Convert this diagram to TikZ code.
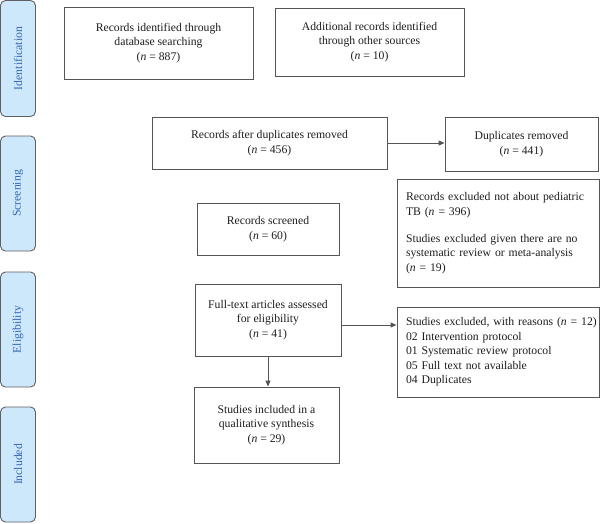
\documentclass[tikz,border=0pt]{standalone}
\usepackage{fontspec}
\setmainfont{Liberation Serif}
\usetikzlibrary{arrows.meta}
\definecolor{lblue}{RGB}{206,232,251}
\definecolor{ltext}{RGB}{52,102,178}
\definecolor{lborder}{RGB}{95,95,100}
\definecolor{boxgray}{RGB}{85,85,85}
\definecolor{txt}{RGB}{30,30,30}
\newcommand{\nn}{\textit{n}}
\newcommand{\oneline}[1]{\mbox{#1}}
\begin{document}
\begin{tikzpicture}[x=1pt,y=-1pt,
  stage/.style={draw=lborder, line width=0.9pt, fill=lblue, rounded corners=5pt,
    rotate=90, minimum height=35pt, inner sep=0pt, text=ltext,
    font=\fontsize{11.7}{14}\selectfont},
  cbox/.style={draw=boxgray, line width=0.9pt, inner sep=0pt, align=center, text=txt,
    font=\fontsize{11.7}{14.5}\selectfont},
  lbox/.style={cbox, align=left, inner xsep=9pt, inner ysep=0pt},
  arr/.style={draw=boxgray, line width=0.9pt, -{Triangle[length=6pt,width=5pt]}}
]
\useasboundingbox (0,0) rectangle (600,523);
\fill[white] (0,0) rectangle (600,523);

\node[stage, minimum width=116pt] (sid) at (18,58.5) {Identification};
\node[stage, minimum width=115pt] (ssc) at (18,193.5) {Screening};
\node[stage, minimum width=115pt] (sel) at (18,329.5) {Eligibility};
\node[stage, minimum width=115pt] (sin) at (18,464.5) {Included};

\node[cbox, minimum width=189pt, minimum height=72pt] (db) at (158.5,43)
  {Records identified through\\database searching\\(\nn{} = 887)};
\node[cbox, minimum width=189pt, minimum height=68pt] (other) at (369.5,42)
  {Additional records identified\\through other sources\\(\nn{} = 10)};
\node[cbox, minimum width=235pt, minimum height=52pt] (after) at (269.5,143)
  {Records after duplicates removed\\(\nn{} = 456)};
\node[cbox, minimum width=153pt, minimum height=54pt] (dup) at (521.5,144)
  {Duplicates removed\\(\nn{} = 441)};
\node[lbox, text width=184pt, minimum height=108pt] (excl1) at (498,233)
  {\oneline{Records excluded not about pediatric}\\\oneline{TB (\nn{} = 396)}\\[12.5pt]\oneline{Studies excluded given there are no}\\\oneline{systematic review or meta-analysis}\\\oneline{(\nn{} = 19)}};
\node[cbox, minimum width=142pt, minimum height=52pt] (screened) at (268,229)
  {Records screened\\(\nn{} = 60)};
\node[cbox, minimum width=146pt, minimum height=72pt] (full) at (268,320)
  {Full-text articles assessed\\for eligibility\\(\nn{} = 41)};
\node[lbox, text width=184pt, minimum height=90pt] (excl2) at (498,352)
  {\oneline{Studies excluded, with reasons (\nn{} = 12)}\\\oneline{02 Intervention protocol}\\\oneline{01 Systematic review protocol}\\\oneline{05 Full text not available}\\\oneline{04 Duplicates}};
\node[cbox, minimum width=145pt, minimum height=76pt] (incl) at (266.5,425)
  {Studies included in a\\qualitative synthesis\\(\nn{} = 29)};

\draw[arr] (after.east) -- (after.east -| dup.west);
\draw[arr] ([yshift=-5pt]full.east) -- ([yshift=-5pt]full.east -| excl2.west);
\draw[arr] (full.south) -- (full.south |- incl.north);
\end{tikzpicture}
\end{document}
